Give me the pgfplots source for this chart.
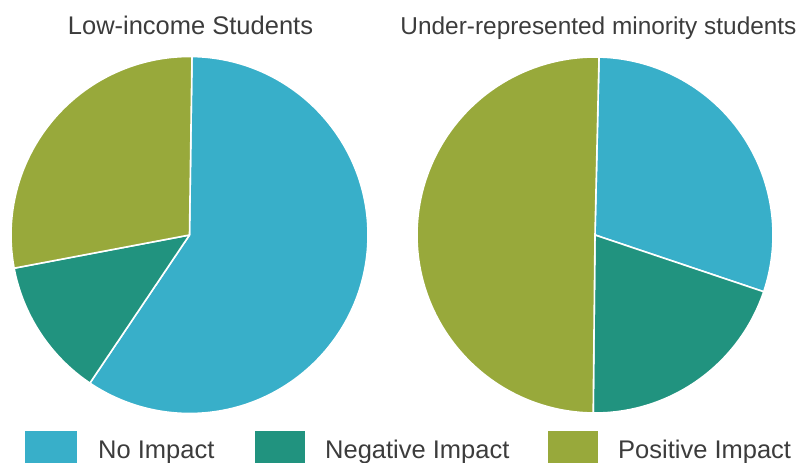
\documentclass[border=0pt]{standalone}
\usepackage{pgfplots}
\usepackage{pgfplotstable}
\pgfplotsset{compat=1.18}
\usepackage{fontspec}
\setmainfont{Liberation Sans}
\definecolor{noimp}{HTML}{38AFC9}
\definecolor{negimp}{HTML}{21937F}
\definecolor{posimp}{HTML}{98A93B}
\definecolor{txt}{HTML}{3C3C3C}

\pgfplotstableread{
label value col
No 59.2 noimp
Neg 12.6 negimp
Pos 28.2 posimp
}\lowincome

\pgfplotstableread{
label value col
No 29.8 noimp
Neg 20.0 negimp
Pos 50.2 posimp
}\minority

% draw a pie from a table: #1 table, #2 cx, #3 cy, #4 radius (pt), #5 start angle
\newcommand{\drawpie}[5]{%
  \pgfplotstablegetrowsof{#1}%
  \pgfmathtruncatemacro{\nrows}{\pgfplotsretval-1}%
  \xdef\cum{0}%
  \foreach \i in {0,...,\nrows}{%
    \pgfplotstablegetelem{\i}{value}\of{#1}\let\val\pgfplotsretval
    \pgfplotstablegetelem{\i}{col}\of{#1}\let\colr\pgfplotsretval
    \pgfmathsetmacro{\aone}{#5-3.6*\cum}%
    \pgfmathsetmacro{\atwo}{#5-3.6*(\cum+\val)}%
    \pgfmathsetmacro{\newcum}{\cum+\val}%
    \xdef\cum{\newcum}%
    \edef\temp{\noexpand\filldraw[fill=\colr, draw=white, line width=1.6pt, line join=round]
      (axis cs:#2,#3) -- ++(\aone:#4pt) arc[start angle=\aone, end angle=\atwo, radius=#4pt] -- cycle;}%
    \temp
  }%
}

\begin{document}
\begin{tikzpicture}
\useasboundingbox (0,0) rectangle (801pt,463pt);
\begin{axis}[
  scale only axis, width=801pt, height=463pt,
  xmin=0, xmax=801, ymin=0, ymax=463,
  hide axis, clip=false,
]
\drawpie{\lowincome}{189.5}{228}{178.5}{89.2}
\drawpie{\minority}{595}{228}{178}{88.7}

\node[anchor=base, inner sep=0, text=txt, font=\fontsize{25.5}{30}\selectfont] at (axis cs:190.5,428) {Low-income Students};
\node[anchor=base, inner sep=0, text=txt, font=\fontsize{24.4}{30}\selectfont] at (axis cs:598.5,428) {Under-represented minority students};

% legend
\fill[noimp] (axis cs:25,0) rectangle (axis cs:77,32);
\fill[negimp] (axis cs:255,0) rectangle (axis cs:305,32);
\fill[posimp] (axis cs:548,0) rectangle (axis cs:598,32);
\node[anchor=base west, inner sep=0, text=txt, font=\fontsize{25.5}{30}\selectfont] at (axis cs:98,4) {No Impact};
\node[anchor=base west, inner sep=0, text=txt, font=\fontsize{25.5}{30}\selectfont] at (axis cs:325,4) {Negative Impact};
\node[anchor=base west, inner sep=0, text=txt, font=\fontsize{25.5}{30}\selectfont] at (axis cs:618,4) {Positive Impact};
\end{axis}
\end{tikzpicture}
\end{document}
